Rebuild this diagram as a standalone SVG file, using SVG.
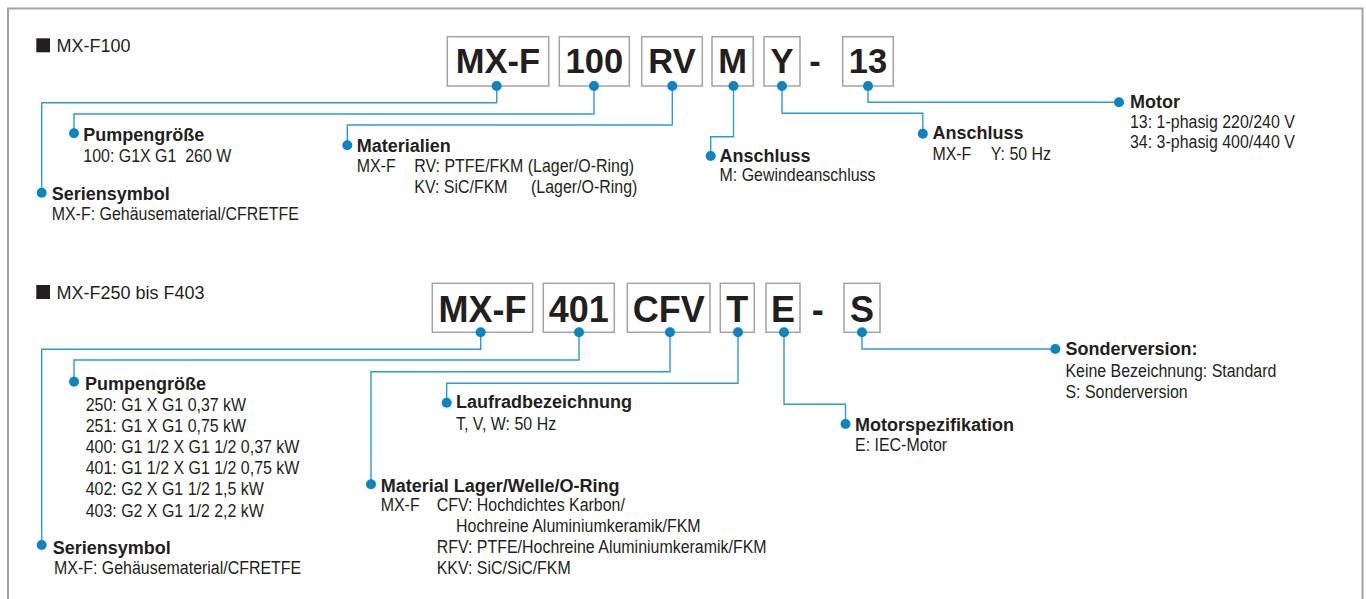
<svg xmlns="http://www.w3.org/2000/svg" width="1366" height="599" viewBox="0 0 1366 599">
<style>
.frame{fill:none;stroke:#a3a3a3;stroke-width:2}
.box{fill:#fff;stroke:#a3a3a3;stroke-width:1.5}
.code{font-family:"Liberation Sans",Arial,sans-serif;font-weight:bold;font-size:34.5px;fill:#231f20;text-anchor:middle}
.code2{font-size:36px}
.title{font-family:"Liberation Sans",Arial,sans-serif;font-size:18px;fill:#231f20}
.sq{fill:#231f20}
.h{font-family:"Liberation Sans",Arial,sans-serif;font-weight:bold;font-size:18px;fill:#231f20}
.d{font-family:"Liberation Sans",Arial,sans-serif;font-size:19px;fill:#231f20;transform-box:fill-box;transform-origin:0 50%;transform:scaleX(0.84)}
.conn path{fill:none;stroke:#2b9bd3;stroke-width:1.4;marker-start:url(#dot);marker-end:url(#dot)}
</style>
<defs>
<marker id="dot" viewBox="-6 -6 12 12" markerWidth="12" markerHeight="12" markerUnits="userSpaceOnUse" refX="0" refY="0" orient="auto"><circle r="5" fill="#0a84c2"/></marker>
</defs>
<rect width="1366" height="599" fill="#fff"/>
<path class="frame" d="M8,600 V8.5 H1362.5 V600"/>

<g id="title-top"><rect class="sq" x="36.3" y="38.3" width="13.7" height="14"/><text class="title" x="56.5" y="52.3">MX-F100</text></g>
<g id="title-bottom"><rect class="sq" x="36.3" y="285" width="13.7" height="14"/><text class="title" x="56.5" y="299">MX-F250 bis F403</text></g>

<g id="top-mxf"><rect class="box" x="447.3" y="36.7" width="101.4" height="49.3"/><text class="code" x="498" y="73.3">MX-F</text></g>
<g id="top-100"><rect class="box" x="559.3" y="36.7" width="70" height="49.3"/><text class="code" x="594.3" y="73.3">100</text></g>
<g id="top-rv"><rect class="box" x="641.7" y="36.7" width="60.6" height="49.3"/><text class="code" x="672" y="73.3">RV</text></g>
<g id="top-m"><rect class="box" x="712" y="36.7" width="41.3" height="49.3"/><text class="code" x="732.7" y="73.3">M</text></g>
<g id="top-y"><rect class="box" x="764" y="36.7" width="36" height="49.3"/><text class="code" x="782" y="73.3">Y</text></g>
<g id="top-dash"><text class="code" x="815" y="73.3">-</text></g>
<g id="top-13"><rect class="box" x="842.7" y="36.7" width="50.6" height="49.3"/><text class="code" x="868" y="73.3">13</text></g>

<g id="bot-mxf"><rect class="box" x="432.3" y="283.3" width="100.4" height="49"/><text class="code code2" x="482.5" y="321.7">MX-F</text></g>
<g id="bot-401"><rect class="box" x="543.3" y="283.3" width="71" height="49"/><text class="code code2" x="578.8" y="321.7">401</text></g>
<g id="bot-cfv"><rect class="box" x="627.3" y="283.3" width="82.7" height="49"/><text class="code code2" x="668.7" y="321.7">CFV</text></g>
<g id="bot-t"><rect class="box" x="720.3" y="283.3" width="34" height="49"/><text class="code code2" x="737.3" y="321.7">T</text></g>
<g id="bot-e"><rect class="box" x="766" y="283.3" width="34" height="49"/><text class="code code2" x="783" y="321.7">E</text></g>
<g id="bot-dash"><text class="code code2" x="817.7" y="321.7">-</text></g>
<g id="bot-s"><rect class="box" x="844" y="283.3" width="36" height="49"/><text class="code code2" x="862" y="321.7">S</text></g>

<g id="connectors" class="conn">
<path d="M496.7,86 V102.7 H41.7 V192.7"/>
<path d="M594,86 V114 H74 V133.3"/>
<path d="M672.3,86 V125 H347.3 V145.3"/>
<path d="M733.5,86 V136.7 H710.7 V156"/>
<path d="M782,86 V113.3 H922.8 V133.7"/>
<path d="M868,86 V102.3 H1119"/>
<path d="M480.7,332.3 V349.3 H41.7 V545"/>
<path d="M579,332.3 V360 H74 V381.7"/>
<path d="M670,332.3 V371.7 H371 V484.3"/>
<path d="M738,332.3 V383.3 H446.7 V402.7"/>
<path d="M784,332.3 V404.3 H845.5 V424"/>
<path d="M862,332.3 V349 H1055.3"/>
</g>

<g id="lbl-top-serie"><text class="h" x="51.7" y="199.7">Seriensymbol</text><text class="d" x="51.7" y="220">MX-F: Gehäusematerial/CFRETFE</text></g>
<g id="lbl-top-pumpe"><text class="h" x="83.3" y="140.7">Pumpengröße</text><text class="d" x="83.3" y="161.7">100: G1X G1&#160; 260 W</text></g>
<g id="lbl-top-mat"><text class="h" x="356.7" y="152">Materialien</text><text class="d" x="356.7" y="172.5">MX-F</text><text class="d" x="414.3" y="172.5">RV: PTFE/FKM (Lager/O-Ring)</text><text class="d" x="414.3" y="193.5">KV: SiC/FKM</text><text class="d" x="531" y="193.5">(Lager/O-Ring)</text></g>
<g id="lbl-top-ansch-m"><text class="h" x="719.5" y="161.7">Anschluss</text><text class="d" x="719.5" y="181.5">M: Gewindeanschluss</text></g>
<g id="lbl-top-ansch-y"><text class="h" x="932.4" y="139.3">Anschluss</text><text class="d" x="932.4" y="160">MX-F</text><text class="d" x="990.8" y="160">Y: 50 Hz</text></g>
<g id="lbl-top-motor"><text class="h" x="1130" y="108.3">Motor</text><text class="d" x="1130" y="128.5">13: 1-phasig 220/240 V</text><text class="d" x="1130" y="148.5">34: 3-phasig 400/440 V</text></g>

<g id="lbl-bot-serie"><text class="h" x="52.7" y="554">Seriensymbol</text><text class="d" x="54" y="574">MX-F: Gehäusematerial/CFRETFE</text></g>
<g id="lbl-bot-pumpe"><text class="h" x="85" y="390">Pumpengröße</text>
<text class="d" x="85.7" y="410.7">250: G1 X G1 0,37 kW</text>
<text class="d" x="85.7" y="431.9">251: G1 X G1 0,75 kW</text>
<text class="d" x="85.7" y="453.1">400: G1 1/2 X G1 1/2 0,37 kW</text>
<text class="d" x="85.7" y="474.3">401: G1 1/2 X G1 1/2 0,75 kW</text>
<text class="d" x="85.7" y="495.5">402: G2 X G1 1/2 1,5 kW</text>
<text class="d" x="85.7" y="516.7">403: G2 X G1 1/2 2,2 kW</text></g>
<g id="lbl-bot-mat"><text class="h" x="380.7" y="491.7">Material Lager/Welle/O-Ring</text>
<text class="d" x="380.7" y="511">MX-F</text>
<text class="d" x="436.7" y="511">CFV: Hochdichtes Karbon/</text>
<text class="d" x="456" y="532.3">Hochreine Aluminiumkeramik/FKM</text>
<text class="d" x="436.7" y="553.3">RFV: PTFE/Hochreine Aluminiumkeramik/FKM</text>
<text class="d" x="436.7" y="574.3">KKV: SiC/SiC/FKM</text></g>
<g id="lbl-bot-lauf"><text class="h" x="456" y="408.3">Laufradbezeichnung</text><text class="d" x="456" y="430">T, V, W: 50 Hz</text></g>
<g id="lbl-bot-motor"><text class="h" x="855" y="430.7">Motorspezifikation</text><text class="d" x="855" y="451">E: IEC-Motor</text></g>
<g id="lbl-bot-sonder"><text class="h" x="1065.4" y="355">Sonderversion:</text><text class="d" x="1065.4" y="377.3">Keine Bezeichnung: Standard</text><text class="d" x="1065.4" y="398.3">S: Sonderversion</text></g>
</svg>
